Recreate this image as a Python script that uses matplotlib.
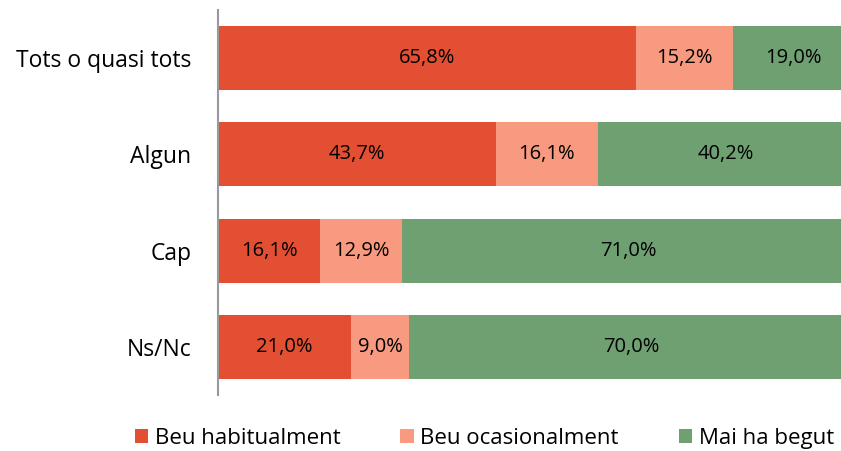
import numpy as np
import matplotlib.pyplot as plt

plt.rcParams['font.family'] = ['Open Sans', 'DejaVu Sans']

categories = ['Tots o quasi tots', 'Algun', 'Cap', 'Ns/Nc']
habitualment = [65.8, 43.7, 16.1, 21.0]
ocasionalment = [15.2, 16.1, 12.9, 9.0]
mai = [19.0, 40.2, 71.0, 70.0]

series = [
    ('Beu habitualment', habitualment, '#E34F32'),
    ('Beu ocasionalment', ocasionalment, '#F79A80'),
    ('Mai ha begut', mai, '#6FA072'),
]

fig = plt.figure(figsize=(8.41, 4.51), dpi=100)
# the plot area runs past the right edge of the canvas, so the bars are cut off there
ax = fig.add_axes([0.259, 0.124, 0.756, 0.854])

y = np.arange(len(categories))
left = np.zeros(len(categories))
for name, vals, color in series:
    vals = np.array(vals)
    bars = ax.barh(y, vals, left=left, height=0.665, color=color, label=name)
    for b, v in zip(bars, vals):
        ax.text(b.get_x() + b.get_width() / 2, b.get_y() + b.get_height() / 2,
                f'{v:.1f}%'.replace('.', ','), ha='center', va='center',
                fontsize=14.5, color='black')
    left += vals

ax.set_xlim(0, 100)
ax.set_ylim(len(categories) - 0.5, -0.5)
ax.set_yticks(y)
ax.set_yticklabels(categories, fontsize=16.5)
ax.tick_params(axis='y', length=0, pad=19)
ax.set_xticks([])
for s in ['top', 'right', 'bottom']:
    ax.spines[s].set_visible(False)
ax.spines['left'].set_color('#999999')
ax.spines['left'].set_linewidth(1.5)

fig.legend(loc='center', bbox_to_anchor=(0.576, 0.028), ncol=3, frameon=False,
           fontsize=16, handlelength=0.6, handleheight=0.6, handletextpad=0.3,
           columnspacing=2.7)

fig.savefig('out.png', dpi=100)
